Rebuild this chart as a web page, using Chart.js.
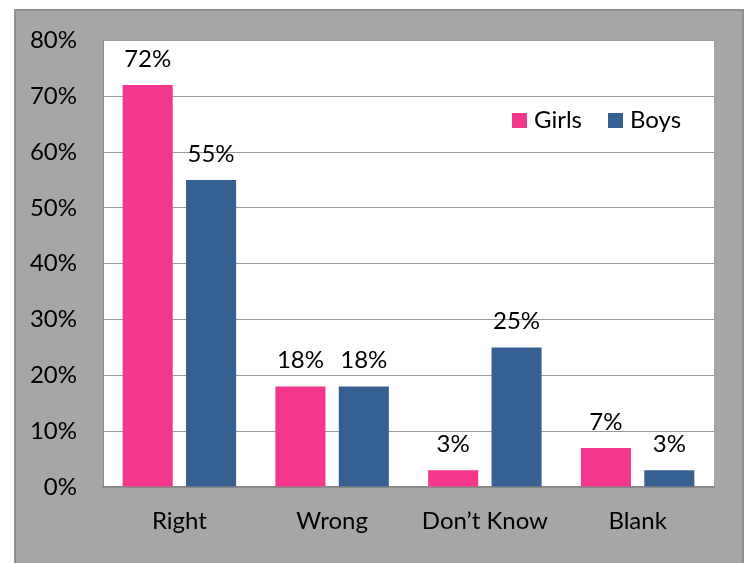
<!DOCTYPE html>
<html>
<head>
<meta charset="utf-8">
<script src="https://cdn.jsdelivr.net/npm/chart.js@4"></script>
<style>
  html, body { margin: 0; padding: 0; background: #fff; overflow: hidden; }
  .frame {
    position: absolute; left: 14px; top: 9px; width: 726px; height: 600px;
    background: #a6a6a6; border: 2px solid #8f8f8f;
  }
  #chart { position: absolute; left: 0; top: 0; }
</style>
</head>
<body>
<div class="frame"></div>
<canvas id="chart" width="747" height="563"></canvas>
<script>
// ── データ ──
const categories = ['Right', 'Wrong', 'Don’t Know', 'Blank'];
const girls = [72, 18, 3, 7];
const boys = [55, 18, 25, 3];
const yTicks = [0, 10, 20, 30, 40, 50, 60, 70, 80];

const PINK = '#f2378c';
const BLUE = '#366092';
const FONT = "Lato, 'Open Sans', sans-serif";
const FONT_SIZE = 24;

// plot area background
const plotBg = {
  id: 'plotBg',
  beforeDraw(chart) {
    const { ctx, chartArea: a } = chart;
    ctx.save();
    ctx.fillStyle = '#fff';
    ctx.fillRect(a.left, a.top, a.right - a.left, a.bottom - a.top);
    ctx.restore();
  }
};

// value labels above each bar
const valueLabels = {
  id: 'valueLabels',
  afterDatasetsDraw(chart) {
    const { ctx } = chart;
    ctx.save();
    ctx.font = FONT_SIZE + 'px ' + FONT;
    ctx.fillStyle = '#000';
    ctx.textAlign = 'center';
    ctx.textBaseline = 'middle';
    chart.data.datasets.forEach((ds, i) => {
      chart.getDatasetMeta(i).data.forEach((bar, j) => {
        ctx.fillText(ds.data[j] + '%', bar.x, bar.y - 26);
      });
    });
    ctx.restore();
  }
};

// legend drawn inside the plot area, top right
const innerLegend = {
  id: 'innerLegend',
  afterDraw(chart) {
    const { ctx } = chart;
    const pos = [512, 608];
    ctx.save();
    ctx.font = FONT_SIZE + 'px ' + FONT;
    ctx.textBaseline = 'middle';
    chart.data.datasets.forEach((ds, i) => {
      ctx.fillStyle = ds.backgroundColor;
      ctx.fillRect(pos[i], 113, 15, 15);
      ctx.fillStyle = '#000';
      ctx.fillText(ds.label, pos[i] + 22, 120);
    });
    ctx.restore();
  }
};

new Chart(document.getElementById('chart'), {
  type: 'bar',
  data: {
    labels: categories,
    datasets: [
      { label: 'Girls', data: girls, backgroundColor: PINK },
      { label: 'Boys', data: boys, backgroundColor: BLUE }
    ]
  },
  options: {
    responsive: false,
    animation: false,
    events: [],
    layout: { padding: { left: 14, right: 33, top: 40, bottom: 0 } },
    datasets: { bar: { categoryPercentage: 0.83, barPercentage: 0.79 } },
    plugins: { legend: { display: false }, tooltip: { enabled: false } },
    scales: {
      x: {
        grid: { display: false, drawTicks: false },
        border: { color: '#8a8a8a', width: 2 },
        ticks: { color: '#000', font: { family: FONT, size: FONT_SIZE }, padding: 20 },
        afterFit(s) { s.height = 76; }
      },
      y: {
        min: 0, max: 80,
        afterBuildTicks(s) { s.ticks = yTicks.map(v => ({ value: v })); },
        grid: { color: '#9a9a9a', lineWidth: 1, drawTicks: false },
        border: { color: '#8a8a8a', width: 1 },
        ticks: {
          color: '#000', font: { family: FONT, size: FONT_SIZE }, padding: 26,
          callback: v => v + '%'
        },
        afterFit(s) { s.width = 89; }
      }
    }
  },
  plugins: [plotBg, valueLabels, innerLegend]
});
</script>
</body>
</html>
